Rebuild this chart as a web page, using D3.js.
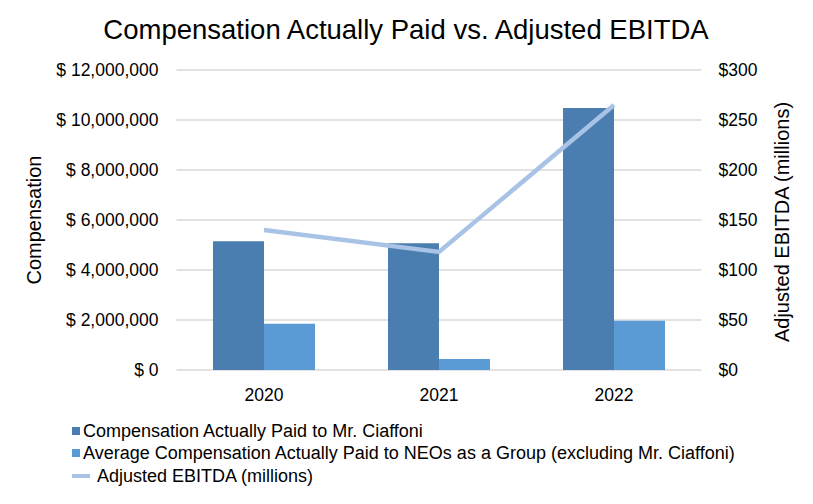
<!DOCTYPE html>
<html>
<head>
<meta charset="utf-8">
<script src="https://cdn.jsdelivr.net/npm/d3@7"></script>
<style>
  body { margin: 0; background: #fff; }
  text { font-family: "Liberation Sans", Arial, sans-serif; fill: #000; }
</style>
</head>
<body>
<div id="chart"></div>
<script>
// Chart data
const YEARS = ["2020", "2021", "2022"];
const CEO_CAP = [5150000, 5070000, 10480000];
const NEO_AVG_CAP = [1850000, 440000, 1970000];
const ADJ_EBITDA = [140, 118, 265];
const LEFT_TICKS = [0, 2000000, 4000000, 6000000, 8000000, 10000000, 12000000];
const RIGHT_TICKS = [0, 50, 100, 150, 200, 250, 300];
const SERIES_NAMES = [
  "Compensation Actually Paid to Mr. Ciaffoni",
  "Average Compensation Actually Paid to NEOs as a Group (excluding Mr. Ciaffoni)",
  "Adjusted EBITDA (millions)"
];

const WIDTH = 813, HEIGHT = 504;
const PLOT = { LEFT: 176.5, RIGHT: 701.5, TOP: 70, BOTTOM: 370 };
const COLORS = { ceo: "#4a7eb0", neo: "#5b9bd5", line: "#a9c3e6", grid: "#d9d9d9" };
const FONT = "Liberation Sans, Arial, sans-serif";

const svg = d3.select("#chart").append("svg").attr("width", WIDTH).attr("height", HEIGHT);

// Scales
const x = d3.scaleBand().domain(YEARS).range([PLOT.LEFT, PLOT.RIGHT]).paddingInner(0).paddingOuter(0);
const xInner = d3.scaleBand().domain(["ceo", "neo"]).range([0, 102]);
const yLeft = d3.scaleLinear().domain([0, 12000000]).range([PLOT.BOTTOM, PLOT.TOP]);
const yRight = d3.scaleLinear().domain([0, 300]).range([PLOT.BOTTOM, PLOT.TOP]);

// Title
svg.append("text").attr("x", 406).attr("y", 39).attr("text-anchor", "middle")
  .attr("font-size", "27.5px").text("Compensation Actually Paid vs. Adjusted EBITDA");

// Gridlines
svg.append("g").selectAll("line").data(LEFT_TICKS).enter().append("line")
  .attr("x1", PLOT.LEFT).attr("x2", PLOT.RIGHT)
  .attr("y1", d => yLeft(d)).attr("y2", d => yLeft(d))
  .attr("stroke", COLORS.grid).attr("stroke-width", 1.3);

// Left axis
const leftAxis = svg.append("g").attr("transform", `translate(${PLOT.LEFT},0)`)
  .call(d3.axisLeft(yLeft).tickValues(LEFT_TICKS).tickSize(0).tickPadding(18)
    .tickFormat(d => "$ " + d3.format(",")(d)));
leftAxis.select(".domain").remove();
leftAxis.selectAll("text").attr("font-size", "17.5px").attr("font-family", FONT).attr("fill", "#000");

// Right axis
const rightAxis = svg.append("g").attr("transform", `translate(${PLOT.RIGHT},0)`)
  .call(d3.axisRight(yRight).tickValues(RIGHT_TICKS).tickSize(0).tickPadding(17)
    .tickFormat(d => "$" + d));
rightAxis.select(".domain").remove();
rightAxis.selectAll("text").attr("font-size", "17.5px").attr("font-family", FONT).attr("fill", "#000");

// Bottom axis
const bottomAxis = svg.append("g").attr("transform", `translate(0,${PLOT.BOTTOM})`)
  .call(d3.axisBottom(x).tickSize(0).tickPadding(19));
bottomAxis.select(".domain").remove();
bottomAxis.selectAll("text").attr("font-size", "17.5px").attr("font-family", FONT).attr("fill", "#000");

// Axis titles
svg.append("text").attr("transform", `translate(41,${(PLOT.TOP + PLOT.BOTTOM) / 2}) rotate(-90)`)
  .attr("text-anchor", "middle").attr("font-size", "20px").text("Compensation");
svg.append("text").attr("transform", `translate(789,${(PLOT.TOP + PLOT.BOTTOM) / 2 + 2}) rotate(-90)`)
  .attr("text-anchor", "middle").attr("font-size", "20px").text("Adjusted EBITDA (millions)");

// Bars
const barData = YEARS.map((yr, i) => ({ year: yr, ceo: CEO_CAP[i], neo: NEO_AVG_CAP[i] }));
const groups = svg.append("g").selectAll("g").data(barData).enter().append("g")
  .attr("transform", d => `translate(${x(d.year) + x.bandwidth() / 2 - 51},0)`);
groups.selectAll("rect").data(d => [{ key: "ceo", v: d.ceo }, { key: "neo", v: d.neo }]).enter()
  .append("rect")
  .attr("x", d => xInner(d.key))
  .attr("width", xInner.bandwidth())
  .attr("y", d => yLeft(d.v))
  .attr("height", d => yLeft(0) - yLeft(d.v))
  .attr("fill", d => COLORS[d.key]);

// Line (secondary axis)
const line = d3.line().x((d, i) => x(YEARS[i]) + x.bandwidth() / 2).y(d => yRight(d));
svg.append("path").datum(ADJ_EBITDA).attr("d", line)
  .attr("fill", "none").attr("stroke", COLORS.line).attr("stroke-width", 4.5);

// Legend
const legend = svg.append("g");
const rows = [431, 453, 476];
legend.append("rect").attr("x", 72).attr("y", rows[0] - 4).attr("width", 8).attr("height", 8).attr("fill", COLORS.ceo);
legend.append("rect").attr("x", 72).attr("y", rows[1] - 4).attr("width", 8).attr("height", 8).attr("fill", COLORS.neo);
legend.append("line").attr("x1", 72).attr("x2", 90).attr("y1", rows[2]).attr("y2", rows[2])
  .attr("stroke", COLORS.line).attr("stroke-width", 4);
legend.selectAll("text").data(SERIES_NAMES).enter().append("text")
  .attr("x", (d, i) => i === 2 ? 97 : 83)
  .attr("y", (d, i) => rows[i])
  .attr("dy", "0.35em")
  .attr("font-size", "18px")
  .text(d => d);
</script>
</body>
</html>
